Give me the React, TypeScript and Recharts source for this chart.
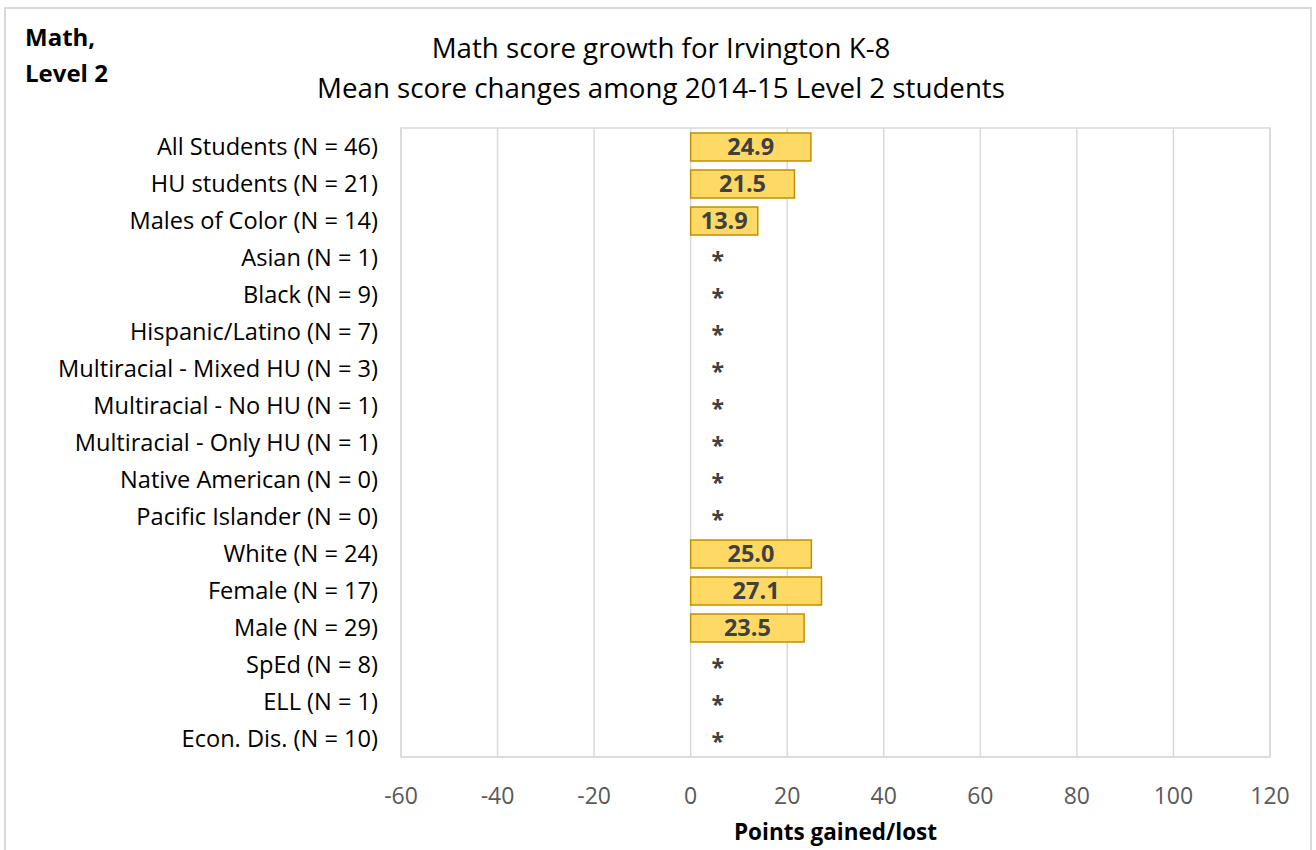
import React from 'react'
import { BarChart, Bar, XAxis, YAxis, CartesianGrid, LabelList, ReferenceArea, Cell } from 'recharts'

const categories = [
  'All Students (N = 46)',
  'HU students (N = 21)',
  'Males of Color (N = 14)',
  'Asian (N = 1)',
  'Black (N = 9)',
  'Hispanic/Latino (N = 7)',
  'Multiracial - Mixed HU (N = 3)',
  'Multiracial - No HU (N = 1)',
  'Multiracial - Only HU (N = 1)',
  'Native American (N = 0)',
  'Pacific Islander (N = 0)',
  'White (N = 24)',
  'Female (N = 17)',
  'Male (N = 29)',
  'SpEd (N = 8)',
  'ELL (N = 1)',
  'Econ. Dis. (N = 10)',
]

// null = suppressed (shown as *)
const scoreChange: (number | null)[] = [
  24.9, 21.5, 13.9, null, null, null, null, null, null, null, null, 25.0, 27.1, 23.5, null, null, null,
]

const xTicks = [-60, -40, -20, 0, 20, 40, 60, 80, 100, 120]

const data = categories.map((name, i) => ({
  name,
  value: scoreChange[i] ?? 0,
  label: scoreChange[i] == null ? '*' : (scoreChange[i] as number).toFixed(1),
}))

const FONT = '"Open Sans", sans-serif'

const renderLabel = (props: any) => {
  const { x, y, width, height, value } = props
  const cy = y + height / 2
  if (value === '*') {
    return (
      <text x={x + 27} y={cy + 11} textAnchor="middle" fontFamily={FONT} fontSize={23} fontWeight={700} fill="#404040">
        *
      </text>
    )
  }
  return (
    <text x={x + width / 2} y={cy} dy="0.36em" textAnchor="middle" fontFamily={FONT} fontSize={23.5} fontWeight={700} fill="#404040">
      {value}
    </text>
  )
}

export default function App() {
  return (
    <div style={{ position: 'relative', width: 1316, height: 850, background: '#fff', fontFamily: FONT, overflow: 'hidden' }}>
      <style>{'body{margin:0}'}</style>
      <div style={{ position: 'absolute', left: 4, top: 7, width: 1308, height: 860, border: '2px solid #d9d9d9', boxSizing: 'border-box' }} />
      <div style={{ position: 'absolute', left: 25, top: 19, fontSize: 24, fontWeight: 700, lineHeight: '36px', color: '#000' }}>
        Math,<br />Level 2
      </div>
      <div style={{ position: 'absolute', left: 0, top: 27, width: 1322, textAlign: 'center', fontSize: 27.7, lineHeight: '40px', color: '#000' }}>
        Math score growth for Irvington K-8<br />Mean score changes among 2014-15 Level 2 students
      </div>
      <div style={{ position: 'absolute', left: 0, top: 0 }}>
        <BarChart
          width={1316}
          height={850}
          data={data}
          layout="vertical"
          margin={{ top: 128, right: 46, bottom: 13, left: 0 }}
          barSize={28}
        >
          <CartesianGrid horizontal={false} stroke="#d9d9d9" strokeWidth={1.5} />
          <ReferenceArea x1={-60} x2={120} fill="none" stroke="#d9d9d9" strokeWidth={1.5} ifOverflow="extendDomain" />
          <XAxis
            type="number"
            domain={[-60, 120]}
            ticks={xTicks}
            interval={0}
            axisLine={{ stroke: '#d9d9d9', strokeWidth: 1.5 }}
            tickLine={false}
            tickSize={0}
            tickMargin={31}
            height={80}
            tick={{ fill: '#595959', fontSize: 23, fontFamily: FONT }}
            label={{ value: 'Points gained/lost', position: 'insideBottom', offset: -3, fill: '#000', fontSize: 22.5, fontWeight: 700, fontFamily: FONT }}
          />
          <YAxis
            type="category"
            dataKey="name"
            width={401}
            interval={0}
            axisLine={false}
            tickLine={false}
            tickSize={0}
            tickMargin={23}
            tick={{ fill: '#000', fontSize: 23.6, fontFamily: FONT }}
          />
          <Bar dataKey="value" fill="#FFD966" stroke="#BF9000" strokeWidth={1.5} minPointSize={1} isAnimationActive={false}>
            {data.map((d, i) => (
              <Cell key={i} fill={d.label === '*' ? 'none' : '#FFD966'} stroke={d.label === '*' ? 'none' : '#BF9000'} />
            ))}
            <LabelList dataKey="label" content={renderLabel} />
          </Bar>
        </BarChart>
      </div>
    </div>
  )
}
